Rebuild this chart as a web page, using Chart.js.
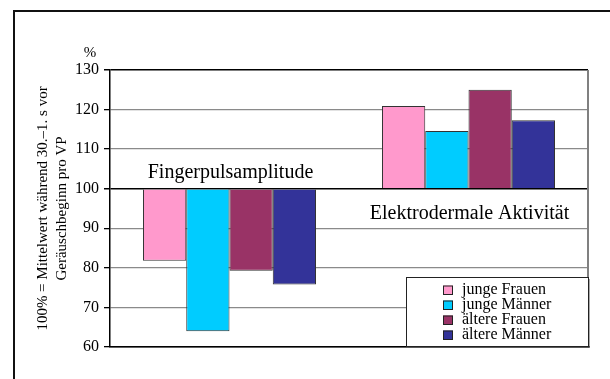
<!DOCTYPE html>
<html>
<head>
<meta charset="utf-8">
<script src="https://cdn.jsdelivr.net/npm/chart.js@4/dist/chart.umd.min.js"></script>
<style>
  html, body { margin: 0; padding: 0; background: #fff; }
  #wrap { position: relative; width: 610px; height: 379px; }
</style>
</head>
<body>
<div id="wrap"><canvas id="c"></canvas></div>
<script>
// Reaktionen relativ zum Ausgangswert (100 % = Mittelwert vor Geräuschbeginn)
const categories = ['Fingerpulsamplitude', 'Elektrodermale Aktivität'];
const seriesNames = ['junge Frauen', 'junge Männer', 'ältere Frauen', 'ältere Männer'];
const jungeFrauen  = [81.8, 120.9];
const jungeMaenner = [64.0, 114.6];
const aeltereFrauen = [79.3, 125.0];
const aeltereMaenner = [75.8, 117.3];
const yTicks = [60, 70, 80, 90, 100, 110, 120, 130];
const baseline = 100;

const colors = ['#FF99CC', '#00CCFF', '#993366', '#333399'];
const serif = "'Liberation Serif', 'Times New Roman', serif";

const seriesValues = [jungeFrauen, jungeMaenner, aeltereFrauen, aeltereMaenner];

// Rahmen, Beschriftungen und Legende
const decorations = {
  id: 'decorations',
  beforeDraw(chart) {
    const ctx = chart.ctx;
    ctx.save();
    ctx.fillStyle = '#fff';
    ctx.fillRect(0, 0, chart.width, chart.height);
    ctx.strokeStyle = '#111';
    ctx.lineWidth = 2;
    ctx.strokeRect(14, 11, chart.width + 50, chart.height + 50);
    ctx.restore();
  },
  afterDatasetsDraw(chart) {
    const ctx = chart.ctx;
    const area = chart.chartArea;
    const xs = chart.scales.x, ys = chart.scales.y;
    ctx.save();
    // rechter Rand der Zeichenfläche
    ctx.strokeStyle = '#808080';
    ctx.lineWidth = 2;
    ctx.beginPath();
    ctx.moveTo(area.right, area.top);
    ctx.lineTo(area.right, area.bottom);
    ctx.stroke();

    // Einheit über der Achse
    ctx.fillStyle = '#000';
    ctx.font = '15px ' + serif;
    ctx.textAlign = 'center';
    ctx.textBaseline = 'alphabetic';
    ctx.fillText('%', 90, 57);

    // Kategorienbeschriftungen in der Zeichenfläche
    ctx.font = '20px ' + serif;
    const y100 = ys.getPixelForValue(baseline);
    ctx.fillText(chart.data.labels[0], xs.getPixelForValue(0) + 1, y100 - 11);
    ctx.fillText(chart.data.labels[1], xs.getPixelForValue(1) + 1, y100 + 30);

    // Legende unten rechts
    const bw = 182, bh = 69;
    const bx = area.right - bw, by = area.bottom - bh - 1;
    ctx.fillStyle = '#fff';
    ctx.fillRect(bx, by, bw, bh);
    ctx.fillStyle = '#555';
    ctx.fillRect(bx + 2, by + bh, bw, 1.5);
    ctx.fillRect(bx + bw, by + 2, 1.5, bh);
    ctx.strokeStyle = '#222';
    ctx.lineWidth = 1;
    ctx.strokeRect(bx + 0.5, by + 0.5, bw, bh);
    ctx.font = '16px ' + serif;
    ctx.textAlign = 'left';
    ctx.textBaseline = 'middle';
    chart.data.datasets.forEach((ds, i) => {
      const cy = by + 13 + i * 15;
      ctx.fillStyle = ds.backgroundColor;
      ctx.fillRect(bx + 37, cy - 4.5, 10, 9);
      ctx.strokeStyle = '#222';
      ctx.strokeRect(bx + 37.5, cy - 4, 9, 8.5);
      ctx.fillStyle = '#000';
      ctx.fillText(ds.label, bx + 56, cy);
    });
    ctx.restore();
  }
};

new Chart(document.getElementById('c'), {
  type: 'bar',
  data: {
    labels: categories,
    datasets: seriesNames.map((name, i) => ({
      label: name,
      data: seriesValues[i],
      backgroundColor: colors[i],
      borderColor: '#333',
      borderWidth: 1,
      base: baseline,
      barPercentage: 1,
      categoryPercentage: 0.724
    }))
  },
  options: {
    responsive: true,
    maintainAspectRatio: false,
    animation: false,
    events: [],
    layout: { padding: { top: 70, right: 22, left: 0, bottom: 0 } },
    plugins: { legend: { display: false }, tooltip: { enabled: false } },
    scales: {
      x: {
        type: 'category',
        grid: { display: false },
        ticks: { display: false },
        border: { color: '#000', width: 1.5 },
        afterFit(s) { s.height = 32; }
      },
      y: {
        min: 60,
        max: 130,
        afterBuildTicks(s) { s.ticks = yTicks.map(v => ({ value: v })); },
        ticks: {
          color: '#000',
          padding: 5,
          font: { family: serif, size: 16 }
        },
        grid: {
          color: c => (c.tick && (c.tick.value === 100 || c.tick.value === 130 || c.tick.value === 60)) ? '#000' : '#8a8a8a',
          lineWidth: c => (c.tick && (c.tick.value === 100 || c.tick.value === 130)) ? 1.5 : 1.3,
          tickColor: '#000',
          tickLength: 6
        },
        border: { color: '#000', width: 1.5 },
        title: {
          display: true,
          text: ['100% = Mittelwert während 30.–1. s vor', 'Geräuschbeginn pro VP'],
          color: '#000',
          font: { family: serif, size: 15, lineHeight: 1.25 },
          padding: { top: 34, bottom: 0 }
        },
        afterFit(s) { s.width = 110; }
      }
    }
  },
  plugins: [decorations]
});
</script>
</body>
</html>
